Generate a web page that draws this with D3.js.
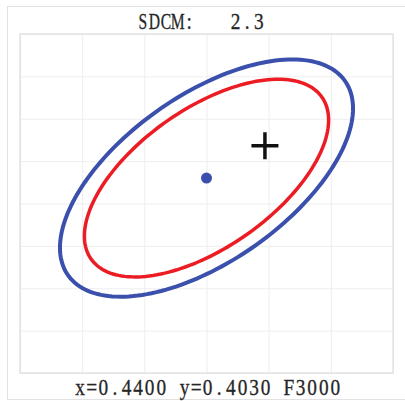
<!DOCTYPE html>
<html>
<head>
<meta charset="utf-8">
<script src="https://cdn.jsdelivr.net/npm/d3@7"></script>
<style>
  body { margin: 0; background: #fff; }
  text { font-family: "Liberation Serif", "DejaVu Serif", serif; fill: #262626; stroke: #262626; stroke-width: 0.3px; white-space: pre; }
</style>
</head>
<body>
<div id="chart"></div>
<script>
// chromaticity window and grid
const xDomain = [0.425, 0.455];
const yDomain = [0.380, 0.420];
// F3000 reference point and measured point
const refName = "F3000";
const center = [0.4400, 0.4030];
const measured = [0.4447, 0.4068];
const sdcm = 2.3;
// MacAdam metric g11, g12, g22 for F3000
const metric = [395000, -195000, 280000];
// ellipse step levels and colours
const steps = [6, 5];
const stepColors = ["#3a50ac", "#ec1c24"];

const width = 405, height = 401;
const box = { left: 20, top: 34, right: 393, bottom: 373 };

const svg = d3.select("#chart").append("svg")
    .attr("width", width)
    .attr("height", height);

// outer frame
svg.append("rect")
    .attr("x", 7.5).attr("y", 6.5)
    .attr("width", 410).attr("height", 393)
    .attr("fill", "none")
    .attr("stroke", "#e2e2e2");

const xScale = d3.scaleLinear().domain(xDomain).range([box.left, box.right]);
const yScale = d3.scaleLinear().domain(yDomain).range([box.bottom, box.top]);

// gridlines
svg.append("g")
    .attr("transform", `translate(0, ${box.bottom})`)
    .call(d3.axisBottom(xScale).ticks(6).tickFormat("").tickSize(-(box.bottom - box.top)))
    .call(g => g.select(".domain").remove())
    .call(g => g.selectAll("line").attr("stroke", "#eeeeee"));

svg.append("g")
    .attr("transform", `translate(${box.left}, 0)`)
    .call(d3.axisLeft(yScale).ticks(8).tickFormat("").tickSize(-(box.right - box.left)))
    .call(g => g.select(".domain").remove())
    .call(g => g.selectAll("line").attr("stroke", "#eeeeee"));

// plot border
svg.append("rect")
    .attr("x", box.left).attr("y", box.top)
    .attr("width", box.right - box.left).attr("height", box.bottom - box.top)
    .attr("fill", "none")
    .attr("stroke", "#d8d8d8");

// ellipse points from metric (Cholesky of inverse)
const [g11, g12, g22] = metric;
const det = g11 * g22 - g12 * g12;
const c11 = g22 / det, c12 = -g12 / det, c22 = g11 / det;
const l11 = Math.sqrt(c11), l21 = c12 / l11, l22 = Math.sqrt(c22 - l21 * l21);

function ellipsePoints(n) {
  return d3.range(0, 361, 2).map(a => {
    const t = a * Math.PI / 180;
    const u = Math.cos(t), v = Math.sin(t);
    return [center[0] + n * l11 * u, center[1] + n * (l21 * u + l22 * v)];
  });
}

const line = d3.line()
    .x(d => xScale(d[0]))
    .y(d => yScale(d[1]))
    .curve(d3.curveLinearClosed);

svg.append("g").selectAll("path")
    .data(steps)
    .join("path")
    .attr("d", n => line(ellipsePoints(n)))
    .attr("fill", "none")
    .attr("stroke", (n, i) => stepColors[i])
    .attr("stroke-width", (n, i) => i === 0 ? 4 : 3.5);

// reference dot
svg.append("circle")
    .attr("cx", xScale(center[0]))
    .attr("cy", yScale(center[1]))
    .attr("r", 5.5)
    .attr("fill", stepColors[0]);

// measured cross
const mx = xScale(measured[0]), my = yScale(measured[1]);
svg.append("path")
    .attr("d", `M${mx - 13.5},${my}H${mx + 13.5}M${mx},${my - 13.5}V${my + 13.5}`)
    .attr("stroke", "#111")
    .attr("stroke-width", 3.5)
    .attr("fill", "none");

// half-width cell text, like the instrument's font
const cell = 11.6;
function cellText(str, left, baseline, squeeze = 0.84) {
  const xs = Array.from(str).map((c, i) => ((left + (i + 0.5) * cell) / squeeze).toFixed(2));
  svg.append("text")
      .attr("transform", `scale(${squeeze},1)`)
      .attr("x", xs.join(" "))
      .attr("y", baseline)
      .attr("text-anchor", "middle")
      .style("font-size", "23px")
      .text(str);
}

// capitals are narrower in the original font
cellText("SDCM", 137, 28.7, 0.68);
cellText(`:   ${sdcm}`, 137 + 4 * cell, 28.7);
cellText(`x=${center[0].toFixed(4)} y=${center[1].toFixed(4)} ${refName}`, 74.3, 395);
</script>
</body>
</html>
